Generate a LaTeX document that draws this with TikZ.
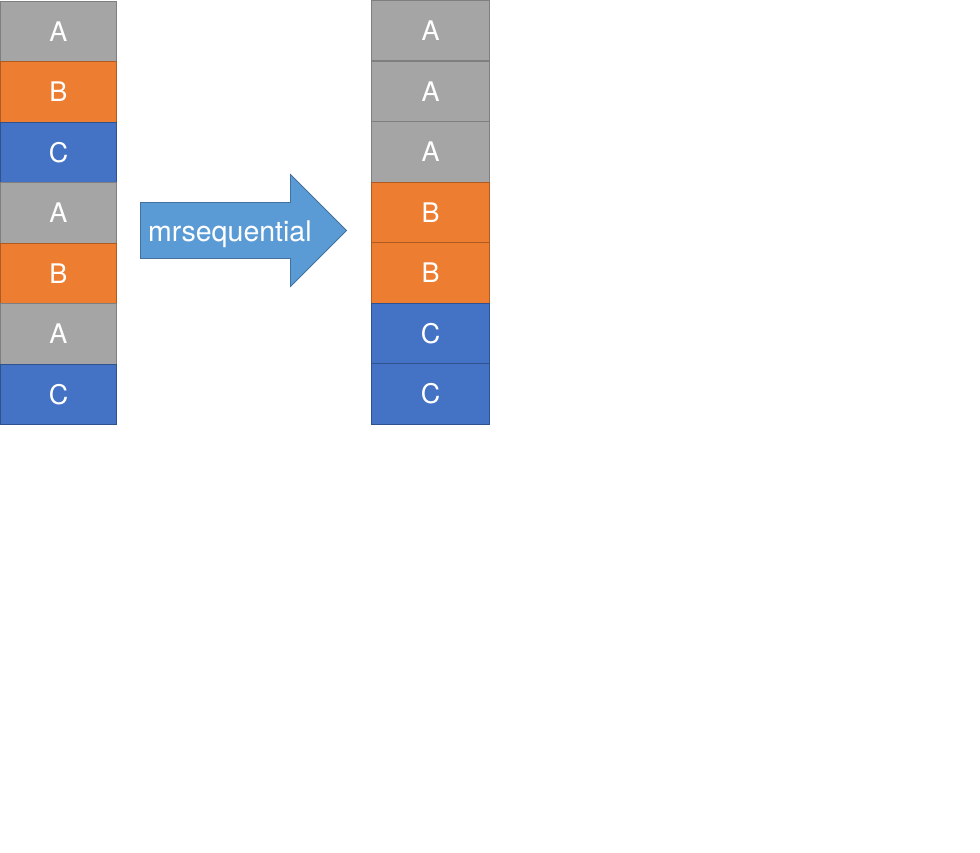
\documentclass[tikz,border=0pt]{standalone}
\usepackage{fontspec}
\setmainfont{TeX Gyre Heros}
\usetikzlibrary{shapes.arrows}
\definecolor{cgray}{HTML}{A5A5A5}
\definecolor{cgrayd}{HTML}{7F7F7F}
\definecolor{corange}{HTML}{ED7D31}
\definecolor{corangeD}{HTML}{AE5A21}
\definecolor{cblue}{HTML}{4472C4}
\definecolor{cblueD}{HTML}{2F528F}
\definecolor{carrow}{HTML}{5B9BD5}
\definecolor{carrowD}{HTML}{41719C}
\tikzset{
  cell/.style={minimum width=116pt, minimum height=60.5pt, inner sep=0pt, outer sep=0pt, text=white, font=\fontsize{27}{27}\selectfont, line width=0.8pt},
  ga/.style={cell, fill=cgray, draw=cgrayd},
  ob/.style={cell, fill=corange, draw=corangeD},
  bc/.style={cell, fill=cblue, draw=cblueD},
}
\begin{document}
\begin{tikzpicture}[x=1pt,y=-1pt]
\useasboundingbox (0,0) rectangle (980,852);
% left column
\node[ga] (l1) at (58.5,31.5) {A};
\node[ob] (l2) at (58.5,92) {B};
\node[bc] (l3) at (58.5,152.5) {C};
\node[ga] (l4) at (58.5,213) {A};
\node[ob] (l5) at (58.5,273.5) {B};
\node[ga] (l6) at (58.5,334) {A};
\node[bc] (l7) at (58.5,394.5) {C};
% right column
\tikzset{rc/.style={minimum width=118pt}}
\node[ga,rc] (r1) at (430.5,30.5) {A};
\node[ga,rc] (r2) at (430.5,91.5) {A};
\node[ga,rc] (r3) at (430.5,152) {A};
\node[ob,rc] (r4) at (430.5,212.5) {B};
\node[ob,rc] (r5) at (430.5,273) {B};
\node[bc,rc] (r6) at (430.5,333.5) {C};
\node[bc,rc] (r7) at (430.5,394) {C};
% arrow
\coordinate (a1) at (140.5,202.5);
\coordinate (a2) at (290.5,202.5);
\coordinate (a3) at (290.5,174.5);
\coordinate (a4) at (346.5,230.5);
\coordinate (a5) at (290.5,286.5);
\coordinate (a6) at (290.5,258.5);
\coordinate (a7) at (140.5,258.5);
\draw[fill=carrow, draw=carrowD, line width=0.8pt, line join=miter] (a1) -- (a2) -- (a3) -- (a4) -- (a5) -- (a6) -- (a7) -- cycle;
\node[text=white, font=\fontsize{28.5}{28.5}\selectfont, anchor=base west, inner sep=0pt] (lab) at (148,241) {mrsequential};
\end{tikzpicture}
\end{document}
